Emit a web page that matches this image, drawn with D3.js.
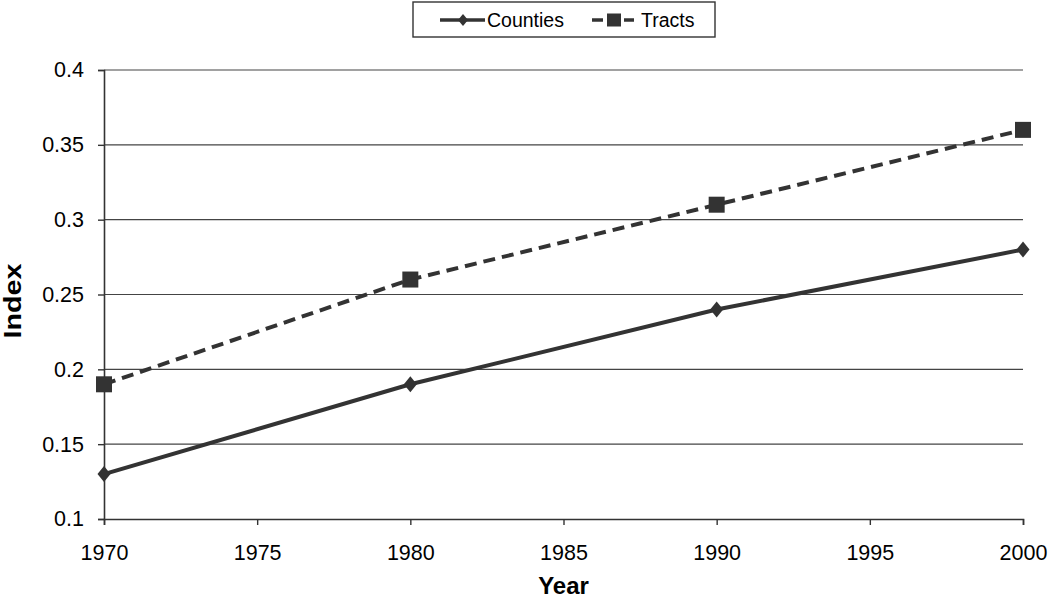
<!DOCTYPE html>
<html lang="en">
<head>
<meta charset="UTF-8">
<script src="https://d3js.org/d3.v7.min.js"></script>
<style>
    body { margin: 0; background: #fff; }
    text { font-family: 'Liberation Sans', Arial, sans-serif; fill: #000; }
</style>
</head>
<body>
<svg id="canvas" width="1050" height="599"></svg>
<script>
// values
let years = [1970, 1980, 1990, 2000]
let counties = [0.13, 0.19, 0.24, 0.28]
let tracts = [0.19, 0.26, 0.31, 0.36]
let yTicks = [0.1, 0.15, 0.2, 0.25, 0.3, 0.35, 0.4]
let xTicks = [1970, 1975, 1980, 1985, 1990, 1995, 2000]

let svg = d3.select('#canvas')
let ink = '#333'

let x = d3.scaleLinear().domain([1970, 2000]).range([104, 1023])
let y = d3.scaleLinear().domain([0.1, 0.4]).range([519, 70])

// diamond a bit taller than wide, like the original markers
let diamond = (w, h) => `M0,${-h}L${w},0L0,${h}L${-w},0Z`

// gridlines
svg.append('g')
    .selectAll('line')
    .data(yTicks.slice(1))
    .enter()
    .append('line')
    .attr('x1', x(1970)).attr('x2', x(2000))
    .attr('y1', d => y(d)).attr('y2', d => y(d))
    .attr('stroke', '#444').attr('stroke-width', 1.2)

// y axis
let yAxis = svg.append('g')
    .attr('transform', `translate(${x(1970)},0)`)
    .call(d3.axisLeft(y).tickValues(yTicks).tickFormat(d => String(+d.toFixed(2))).tickSize(6).tickPadding(14))
yAxis.select('.domain').attr('stroke', ink).attr('stroke-width', 1.6)
yAxis.selectAll('.tick line').attr('stroke', ink).attr('stroke-width', 1.4)
yAxis.selectAll('text').style('font-size', '21.5px').attr('fill', '#000')

// x axis
let xAxis = svg.append('g')
    .attr('transform', `translate(0,${y(0.1)})`)
    .call(d3.axisBottom(x).tickValues(xTicks).tickFormat(d3.format('d')).tickSize(6).tickPadding(20))
xAxis.select('.domain').attr('stroke', ink).attr('stroke-width', 1.6)
xAxis.selectAll('.tick line').attr('stroke', ink).attr('stroke-width', 1.4)
xAxis.selectAll('text').style('font-size', '21.5px').attr('fill', '#000')

// axis titles
svg.append('text')
    .attr('x', x(1985)).attr('y', 594)
    .attr('text-anchor', 'middle')
    .style('font-size', '24px').style('font-weight', 'bold')
    .text('Year')
svg.append('text')
    .attr('transform', `translate(21,${301}) rotate(-90)`)
    .attr('text-anchor', 'middle')
    .attr('textLength', 75).attr('lengthAdjust', 'spacingAndGlyphs')
    .style('font-size', '23px').style('font-weight', 'bold')
    .text('Index')

let line = d3.line()
    .x((d, i) => x(years[i]))
    .y(d => y(d))

// tracts (dashed, squares)
svg.append('path')
    .datum(tracts)
    .attr('d', line)
    .attr('fill', 'none').attr('stroke', ink)
    .attr('stroke-width', 4).attr('stroke-dasharray', '12,7')
svg.append('g')
    .selectAll('rect')
    .data(tracts)
    .enter()
    .append('rect')
    .attr('x', (d, i) => x(years[i]) - 8)
    .attr('y', d => y(d) - 8)
    .attr('width', 16).attr('height', 16)
    .attr('fill', ink)

// counties (solid, diamonds)
svg.append('path')
    .datum(counties)
    .attr('d', line)
    .attr('fill', 'none').attr('stroke', ink)
    .attr('stroke-width', 4)
svg.append('g')
    .selectAll('path')
    .data(counties)
    .enter()
    .append('path')
    .attr('d', diamond(6.5, 8))
    .attr('transform', (d, i) => `translate(${x(years[i])},${y(d)})`)
    .attr('fill', ink)

// legend
let legend = svg.append('g')
legend.append('rect')
    .attr('x', 413).attr('y', 2).attr('width', 302).attr('height', 35)
    .attr('fill', '#fff').attr('stroke', ink).attr('stroke-width', 1.4)
legend.append('line')
    .attr('x1', 440).attr('x2', 485).attr('y1', 20).attr('y2', 20)
    .attr('stroke', ink).attr('stroke-width', 3.5)
legend.append('path')
    .attr('d', diamond(5, 6))
    .attr('transform', 'translate(463,20)')
    .attr('fill', ink)
legend.append('text')
    .attr('x', 487).attr('y', 27)
    .style('font-size', '19.5px')
    .text('Counties')
legend.append('line')
    .attr('x1', 592).attr('x2', 603).attr('y1', 20).attr('y2', 20)
    .attr('stroke', ink).attr('stroke-width', 3.5)
legend.append('line')
    .attr('x1', 624).attr('x2', 634).attr('y1', 20).attr('y2', 20)
    .attr('stroke', ink).attr('stroke-width', 3.5)
legend.append('rect')
    .attr('x', 607).attr('y', 13.5).attr('width', 14).attr('height', 13)
    .attr('fill', ink)
legend.append('text')
    .attr('x', 641).attr('y', 27)
    .style('font-size', '19.5px')
    .text('Tracts')
</script>
</body>
</html>
